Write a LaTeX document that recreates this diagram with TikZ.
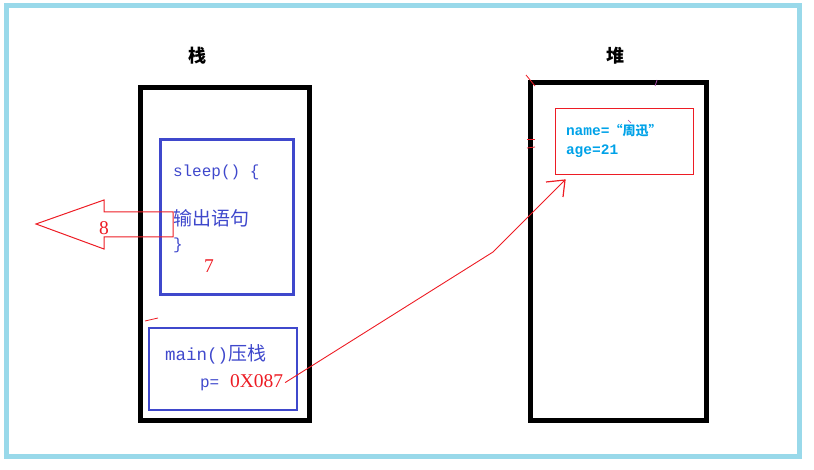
\documentclass[tikz,border=0pt]{standalone}
\usepackage{fontspec}
\setmainfont{Liberation Serif}
\setmonofont{Liberation Mono}
\newfontfamily\cjk{Noto Sans CJK SC}
\definecolor{frameblue}{RGB}{153,217,234}
\definecolor{pblue}{RGB}{63,72,204}
\definecolor{pred}{RGB}{237,28,36}
\definecolor{pcyan}{RGB}{0,162,232}
\definecolor{ppurple}{RGB}{163,73,164}
\tikzset{
  memblock/.style={draw=black, line width=5pt, inner sep=0pt, outer sep=0pt},
  framebox/.style={draw=pblue, line width=3pt, inner sep=0pt, outer sep=0pt},
  txt/.style={inner sep=0pt, outer sep=0pt, anchor=base west},
  redline/.style={draw=pred, line width=0.9pt},
  straymark/.style={line width=0.8pt},
  codefont/.style={font=\ttfamily\fontsize{16}{16}\selectfont},
  cjkfont/.style={font=\cjk\fontsize{19}{19}\selectfont},
  numfont/.style={font=\fontsize{19.5}{19.5}\selectfont, text=pred}
}
\begin{document}
\begin{tikzpicture}[x=1pt,y=-1pt]
\useasboundingbox (0,0) rectangle (814,470);
% outer frame
\node[draw=frameblue, line width=5pt, inner sep=0pt, minimum width=793.5pt, minimum height=451pt] (frame) at (402.75,231) {};
% titles
\node[font=\cjk\bfseries\fontsize{18}{18}\selectfont, inner sep=0pt] (stacktitle) at (197,55.5) {栈};
\node[font=\cjk\bfseries\fontsize{18}{18}\selectfont, inner sep=0pt] (heaptitle) at (615,55.5) {堆};
% memory areas
\node[memblock, minimum width=169pt, minimum height=332.5pt] (stack) at (225,254.25) {};
\node[memblock, minimum width=176pt, minimum height=338pt] (heap) at (618.5,251.5) {};
% frames
\node[framebox, minimum width=133.5pt, minimum height=155pt] (sleepbox) at (226.75,217) {};
\node[framebox, line width=2pt, minimum width=148pt, minimum height=82pt] (mainbox) at (223,369) {};
\node[draw=pred, line width=1pt, inner sep=0pt, minimum width=138pt, minimum height=66pt] (obj) at (624,142) {};
% sleep frame text
\node[txt, codefont, text=pblue] (sleep) at (173,177) {sleep() \{};
\node[txt, cjkfont, text=pblue] (out) at (173,226) {输出语句};
\node[txt, codefont, text=pblue] (close) at (173,250) {\}};
\node[txt, numfont] (seven) at (204,273) {7};
% main frame text
\node[txt, text=pblue] (mainl) at (165,360) {{\ttfamily\fontsize{17.5}{17.5}\selectfont main()}{\cjk\fontsize{19}{19}\selectfont 压栈}};
\node[txt, codefont, text=pblue] (peq) at (200,387) {p=};
\node[txt, numfont] (addr) at (230,387) {0X087};
% heap object text
\node[txt, text=pcyan] (name) at (566,136) {{\ttfamily\bfseries\fontsize{14.5}{14.5}\selectfont name=}{\cjk\bfseries\fontsize{13}{13}\selectfont “周迅”}};
\node[txt, text=pcyan, font=\ttfamily\bfseries\fontsize{14.5}{14.5}\selectfont] (age) at (566,155) {age=21};
% return arrow (block arrow pointing left)
\draw[redline, line width=1pt] (36,224) -- (104,200) -- (104,212) -- (173,212) -- (173,237) -- (104,237) -- (104,249) -- cycle;
\node[txt, numfont] (eight) at (99,235) {8};
% reference connector
\coordinate (bend) at (493,252);
\coordinate (tip) at (565,180);
\draw[redline] ([xshift=2pt,yshift=-2pt]addr.east) -- (bend) -- (tip);
\draw[redline, line width=1.2pt] (546,182) -- (tip) -- (563,197);
% small stray marks
\draw[pred, straymark] (145,321) -- (158,318);
\draw[pred, straymark] (526,75) -- (535,86);
\draw[ppurple, straymark] (657,80) -- (655,86);
\draw[pred, straymark] (527,139) -- (535,139);
\draw[pred, straymark] (527,148) -- (535,147);
\draw[ppurple, line width=0.6pt] (628,120) -- (631,123);
\end{tikzpicture}
\end{document}
